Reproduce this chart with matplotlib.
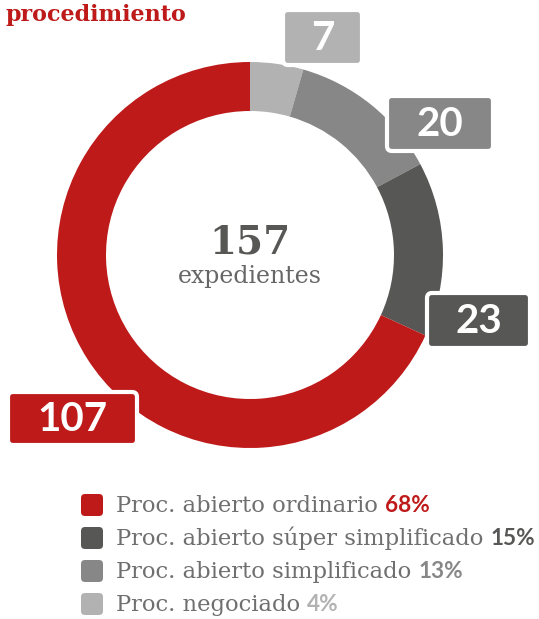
import matplotlib
matplotlib.use("Agg")
import matplotlib.pyplot as plt
from matplotlib.patches import FancyBboxPatch

# ---- data ----
categories = ["Proc. negociado", "Proc. abierto simplificado",
              "Proc. abierto súper simplificado", "Proc. abierto ordinario"]
values = [7, 20, 23, 107]
colors = ["#b2b2b2", "#878787", "#575756", "#be1a1a"]
legend_order = [3, 2, 1, 0]
total_label = "expedientes"
title = "procedimiento"

# ---- layout (pixels) ----
W, H = 539, 619
cx, cy = 250, 255
r_out, ring_w = 193, 49
# label boxes (x0, y0, w, h) for each category, same order as values
boxes = [(283, 10, 79, 55), (387, 96, 106, 55), (427, 293, 103, 55), (8, 392, 129, 53)]

fig = plt.figure(figsize=(W / 100, H / 100), dpi=100)
ax = fig.add_axes([0, 0, 1, 1])

ax.pie(values, colors=colors, startangle=-90, counterclock=True,
       radius=r_out, center=(cx, cy),
       wedgeprops=dict(width=ring_w, linewidth=0))
ax.set_xlim(0, W)
ax.set_ylim(H, 0)
ax.set_aspect("auto")
ax.axis("off")

SERIF = "DejaVu Serif"
SANS = "Lato"

# label boxes
for v, c, (x0, y0, bw, bh) in zip(values, colors, boxes):
    p = FancyBboxPatch((x0, y0), bw, bh, boxstyle="round,pad=0,rounding_size=5",
                       facecolor=c, edgecolor="white", linewidth=3, zorder=5)
    ax.add_patch(p)
    ax.text(x0 + bw / 2, y0 + bh / 2 + 1, str(v), ha="center", va="center",
            color="white", fontsize=29, family=SANS, fontweight="bold", zorder=6)

# center text
ax.text(cx, 242, str(sum(values)), ha="center", va="center", color="#575756",
        fontsize=28, family=SERIF, fontweight="bold")
ax.text(cx, 276, total_label, ha="center", va="center", color="#666666",
        fontsize=17, family=SERIF, fontweight="light")

# title
ax.text(5, 21, title, ha="left", va="baseline", color="#be1a1a",
        fontsize=16, family=SERIF, fontweight="bold")

# legend
fig.canvas.draw()
renderer = fig.canvas.get_renderer()
total = sum(values)
row_y = [505, 538, 571, 604]
for ry, idx in zip(row_y, legend_order):
    sq = FancyBboxPatch((81, ry - 11), 22, 22, boxstyle="round,pad=0,rounding_size=4",
                        facecolor=colors[idx], edgecolor="none")
    ax.add_patch(sq)
    t = ax.text(116, ry + 7, categories[idx] + " ", ha="left", va="baseline",
                color="#6f6f6f", fontsize=16.3, family=SERIF, fontweight="light")
    bb = t.get_window_extent(renderer=renderer)
    x_end = ax.transData.inverted().transform((bb.x1, bb.y0))[0]
    pct = round(values[idx] / total * 100)
    ax.text(x_end, ry + 7, f"{pct}%", ha="left", va="baseline",
            color=colors[idx], fontsize=16.3, family=SANS, fontweight="bold")

fig.savefig("out.png", dpi=100, facecolor="white")
